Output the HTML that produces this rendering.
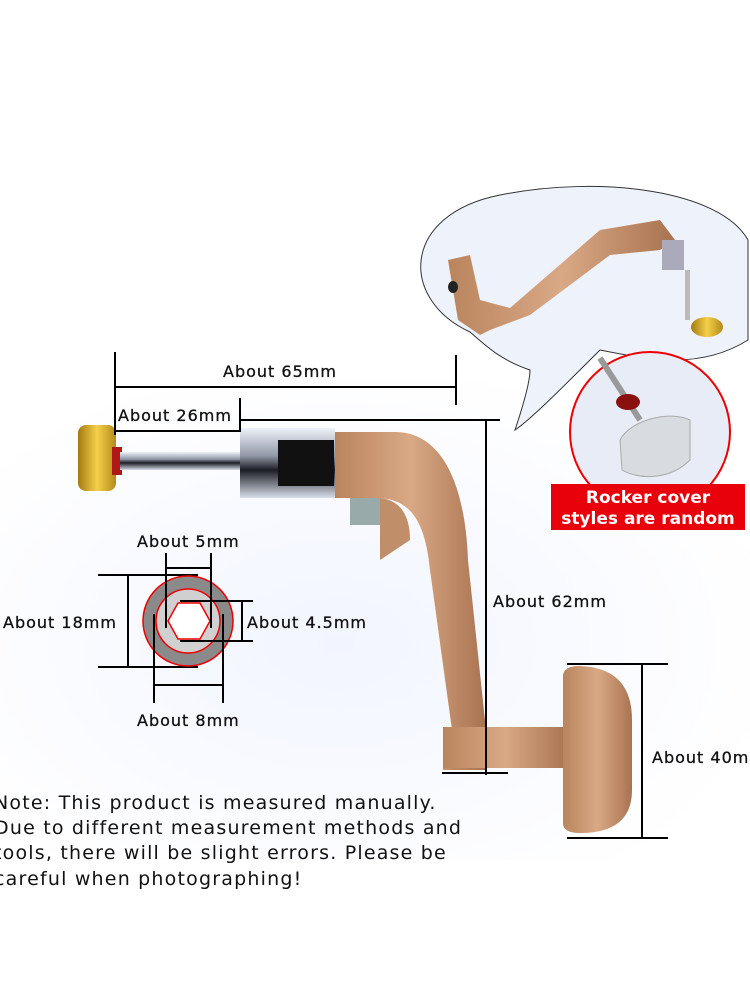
<!DOCTYPE html>
<html><head><meta charset="utf-8"><style>
html,body{margin:0;padding:0;background:#fff}
svg{display:block}
text{font-family:"DejaVu Sans","Liberation Sans",sans-serif;fill:#111}
</style></head><body>
<svg width="750" height="1000" viewBox="0 0 750 1000">
<defs>
<radialGradient id="bg" cx="0.45" cy="0.55" r="0.6">
<stop offset="0" stop-color="#f2f5ff"/><stop offset="1" stop-color="#fff"/>
</radialGradient>
<linearGradient id="cu" x1="0" x2="1"><stop offset="0" stop-color="#b9855e"/><stop offset="0.5" stop-color="#d9a885"/><stop offset="1" stop-color="#a87350"/></linearGradient>
<linearGradient id="gold" x1="0" x2="1"><stop offset="0" stop-color="#a37a10"/><stop offset="0.5" stop-color="#f5d048"/><stop offset="1" stop-color="#b38a1a"/></linearGradient>
<linearGradient id="chrome" x1="0" y1="0" x2="0" y2="1"><stop offset="0" stop-color="#eef2fa"/><stop offset="0.4" stop-color="#8f96a5"/><stop offset="0.6" stop-color="#1c1e25"/><stop offset="1" stop-color="#d8deea"/></linearGradient>
</defs>
<rect width="750" height="1000" fill="#fff"/>
<rect x="0" y="380" width="750" height="480" fill="url(#bg)"/>

<path d="M470,332 C400,300 400,215 500,195 C600,175 720,190 748,240 L748,340 C700,370 650,360 600,350 C560,390 530,420 515,430 C525,400 530,380 530,370 C500,360 485,345 470,332 Z" fill="#eef2fb" stroke="#333" stroke-width="1"/>
<path d="M448,260 L470,255 L480,300 L510,308 L600,230 L660,220 L675,240 L660,250 L610,255 L530,315 L490,330 L480,335 L458,320 Z" fill="url(#cu)"/>
<ellipse cx="453" cy="287" rx="5" ry="6" fill="#222"/>
<rect x="662" y="240" width="22" height="30" fill="#aab" />
<rect x="685" y="270" width="5" height="50" fill="#bbb"/>
<ellipse cx="707" cy="327" rx="16" ry="10" fill="url(#gold)"/>
<circle cx="650" cy="432" r="80" fill="#e7ecf7" stroke="#e00" stroke-width="2"/>
<path d="M600,358 L640,420" stroke="#999" stroke-width="6"/>
<ellipse cx="628" cy="402" rx="12" ry="8" fill="#8a1010"/>
<path d="M620,440 C630,420 670,410 690,420 L690,460 C670,480 640,480 622,470 Z" fill="#d8dbe0" stroke="#aaa"/>
<rect x="551" y="484" width="194" height="46" fill="#e8000b"/>
<text x="648" y="503" font-size="17" font-weight="bold" text-anchor="middle" style="fill:#fff">Rocker cover</text>
<text x="648" y="524" font-size="17" font-weight="bold" text-anchor="middle" style="fill:#fff">styles are random</text>

<rect x="78" y="425" width="38" height="66" rx="8" fill="url(#gold)"/>
<rect x="112" y="447" width="10" height="28" fill="#b01818"/>
<rect x="120" y="452" width="120" height="18" fill="url(#chrome)"/>
<rect x="240" y="428" width="95" height="70" fill="url(#chrome)"/>
<rect x="278" y="440" width="56" height="46" fill="#111"/>
<rect x="350" y="490" width="30" height="35" fill="#9aa"/>
<path d="M335,432 L395,432 C440,432 465,480 468,560 L486,730 L486,770 L443,770 L443,735 L452,730 L430,570 C425,520 410,500 380,498 L335,498 Z" fill="url(#cu)"/>
<path d="M380,498 C400,500 410,515 410,540 L380,560 Z" fill="#c08e68"/>
<rect x="443" y="727" width="125" height="41" fill="url(#cu)"/>
<path d="M563,676 Q563,666 580,666 Q632,668 632,720 L632,790 Q632,833 580,833 Q563,833 563,823 Z" fill="url(#cu)"/>

<g stroke="#000" stroke-width="2" fill="none">
<path d="M115,352 V435 M115,387 H456 M456,355 V405"/>
<path d="M240,398 V432 M115,431 H240 M240,420 H500 M486,420 V775 M442,773 H508"/>
<path d="M567,664 H668 M567,838 H668 M642,664 V838"/>
<path d="M98,575 H198 M98,667 H198 M128,575 V667"/>
<path d="M166,553 V628 M211,553 V628 M166,568 H211"/>
<path d="M180,601 H253 M180,641 H253 M242,601 V641"/>
<path d="M154,614 V703 M223,614 V703 M154,685 H223"/>
</g>
<circle cx="188" cy="621" r="45" fill="#8a8a8a" stroke="#e00" stroke-width="1.5"/>
<circle cx="188" cy="621" r="32" fill="#d0d0d0" stroke="#e00" stroke-width="1.5"/>
<polygon points="168,621 178,603 200,603 210,621 200,639 178,639" fill="#fff" stroke="#e00" stroke-width="1.5"/>
<g stroke="#000" stroke-width="2"><path d="M166,553 V628 M211,553 V628 M180,601 H253 M180,641 H253 M154,614 V703 M223,614 V703"/></g>

<g font-size="16" style="letter-spacing:1px;stroke:#111;stroke-width:0.3">
<text x="223" y="377">About 65mm</text>
<text x="118" y="421">About 26mm</text>
<text x="493" y="607">About 62mm</text>
<text x="652" y="763">About 40mm</text>
<text x="137" y="547">About 5mm</text>
<text x="3" y="628">About 18mm</text>
<text x="247" y="628">About 4.5mm</text>
<text x="137" y="726">About 8mm</text>
</g>
<g font-size="19" style="letter-spacing:1.2px">
<text x="-6" y="809">Note: This product is measured manually.</text>
<text x="-6" y="834">Due to different measurement methods and</text>
<text x="-6" y="859">tools, there will be slight errors. Please be</text>
<text x="-6" y="885">careful when photographing!</text>
</g>
</svg>
</body></html>
